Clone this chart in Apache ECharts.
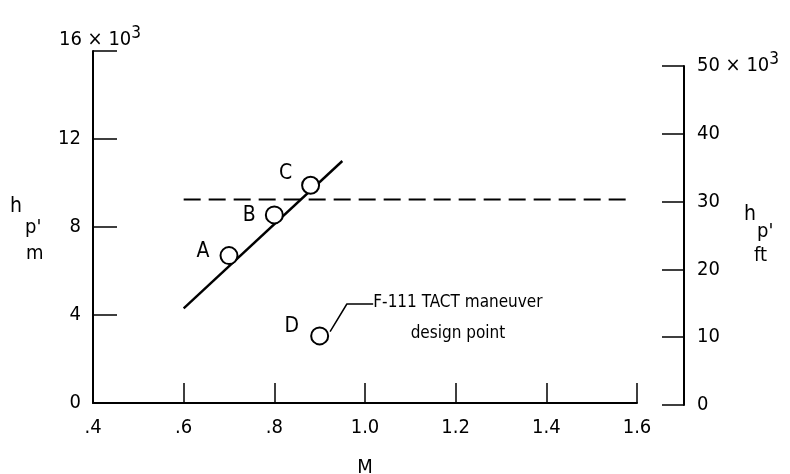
<!DOCTYPE html>
<html>
<head>
<meta charset="utf-8">
<script src="https://cdn.jsdelivr.net/npm/echarts@6/dist/echarts.min.js"></script>
<style>
html,body{margin:0;padding:0;background:#fff;}
#c{width:790px;height:474px;}
</style>
</head>
<body>
<div id="c"></div>
<script>
// ---- data ----
const machTicks = [0.4, 0.6, 0.8, 1.0, 1.2, 1.4, 1.6];
const hMetersTicks = [0, 4, 8, 12, 16];
const hFeetTicks = [0, 10, 20, 30, 40, 50];
const trendM = [0.60, 0.95];
const trendH = [4.3, 11.0];
const pointNames = ['A', 'B', 'C'];
const pointM = [0.70, 0.80, 0.88];
const pointH = [6.7, 8.55, 9.9];
const designName = ['D'];
const designM = [0.90];
const designH = [3.05];
const refLineM = [0.60, 1.59];
const refLineH = [9.25, 9.25];
const leaderM = [0.923, 0.96, 1.018];
const leaderH = [3.24, 4.5, 4.5];
const noteText = 'F-111 TACT maneuver\ndesign point';
const noteM = [1.205];
const noteH = [3.87];

const FONT = '"DejaVu Sans Condensed", "DejaVu Sans", sans-serif';
const FS = 20;
const labelOffsets = [[-26, -4], [-25, 1], [-25, -12]];

const chart = echarts.init(document.getElementById('c'));
const zip = (a, b) => a.map((v, i) => [v, b[i]]);

const option = {
  backgroundColor: '#fff',
  animation: false,
  textStyle: { fontFamily: FONT, color: '#000' },
  grid: [
    { left: 93, right: 153, top: 51, bottom: 71, outerBoundsMode: 'none', containLabel: false },
    { left: 660, width: 24, top: 66, height: 339, outerBoundsMode: 'none', containLabel: false }
  ],
  xAxis: [
    {
      gridIndex: 0, type: 'value', min: 0.4, max: 1.6, interval: 0.2,
      name: 'M', nameLocation: 'middle', nameGap: 55,
      nameTextStyle: { fontFamily: FONT, fontSize: FS, color: '#000' },
      axisLine: { onZero: false, lineStyle: { color: '#000', width: 2 } },
      axisTick: { inside: true, length: 20, lineStyle: { color: '#000', width: 1.5 } },
      axisLabel: { margin: 15, fontFamily: FONT, fontSize: FS, color: '#000',
        formatter: v => { const s = v.toFixed(1); return v < 1 ? s.replace(/^0/, '') : s; } },
      splitLine: { show: false }
    },
    { gridIndex: 1, type: 'value', min: 0, max: 1, show: false }
  ],
  yAxis: [
    {
      gridIndex: 0, type: 'value', min: 0, max: 16, interval: 4,
      name: '16 × 10{sup|3}', nameLocation: 'end', nameGap: -3,
      nameTextStyle: { fontFamily: FONT, fontSize: FS, color: '#000', align: 'center', padding: [0, 0, 0, 14],
        rich: { sup: { fontFamily: FONT, fontSize: 17, verticalAlign: 'bottom', padding: [0, 0, 12, 0] } } },
      axisLine: { show: true, onZero: false, lineStyle: { color: '#000', width: 2 } },
      axisTick: { show: true, inside: true, length: 24, lineStyle: { color: '#000', width: 1.5 } },
      axisLabel: { margin: 12, fontFamily: FONT, fontSize: FS, color: '#000',
        formatter: v => v === 16 ? '' : String(v) },
      splitLine: { show: false }
    },
    {
      gridIndex: 1, type: 'value', position: 'right', min: 0, max: 50, interval: 10,
      axisLine: { show: true, onZero: false, lineStyle: { color: '#000', width: 2 } },
      axisTick: { show: true, inside: true, length: 22, lineStyle: { color: '#000', width: 1.5 } },
      axisLabel: { margin: 13, fontFamily: FONT, fontSize: FS, color: '#000',
        formatter: v => v === 50 ? '50 × 10{sup|3}' : String(v),
        rich: { sup: { fontFamily: FONT, fontSize: 17, padding: [0, 0, 12, 0] } } },
      splitLine: { show: false }
    }
  ],
  graphic: [
    { type: 'text', left: 10, top: 196, style: { text: 'h', font: '21px ' + FONT, fill: '#000' } },
    { type: 'text', left: 25, top: 218, style: { text: "p'", font: '20px ' + FONT, fill: '#000' } },
    { type: 'text', left: 26, top: 244, style: { text: 'm', font: '20px ' + FONT, fill: '#000' } },
    { type: 'text', left: 744, top: 204, style: { text: 'h', font: '21px ' + FONT, fill: '#000' } },
    { type: 'text', left: 757, top: 222, style: { text: "p'", font: '20px ' + FONT, fill: '#000' } },
    { type: 'text', left: 754, top: 246, style: { text: 'ft', font: '20px ' + FONT, fill: '#000' } }
  ],
  series: [
    {
      type: 'line', xAxisIndex: 0, yAxisIndex: 0, data: zip(refLineM, refLineH),
      symbol: 'none', lineStyle: { color: '#000', width: 2, type: [17, 8] }, z: 2
    },
    {
      type: 'line', xAxisIndex: 0, yAxisIndex: 0, data: zip(trendM, trendH),
      symbol: 'none', lineStyle: { color: '#000', width: 2.4 }, z: 2
    },
    {
      type: 'line', xAxisIndex: 0, yAxisIndex: 0, data: zip(leaderM, leaderH),
      symbol: 'none', lineStyle: { color: '#000', width: 1.5 }, z: 2
    },
    {
      type: 'scatter', xAxisIndex: 0, yAxisIndex: 0,
      data: pointM.map((m, i) => ({
        value: [m, pointH[i]], name: pointNames[i],
        label: { offset: labelOffsets[i] }
      })),
      symbol: 'circle', symbolSize: 17,
      itemStyle: { color: '#fff', borderColor: '#000', borderWidth: 2, opacity: 1 },
      label: { show: true, position: 'inside', formatter: p => p.name,
        fontFamily: FONT, fontSize: 21, color: '#000' },
      z: 5
    },
    {
      type: 'scatter', xAxisIndex: 0, yAxisIndex: 0,
      data: designM.map((m, i) => ({ value: [m, designH[i]], name: designName[i] })),
      symbol: 'circle', symbolSize: 17,
      itemStyle: { color: '#fff', borderColor: '#000', borderWidth: 2, opacity: 1 },
      label: { show: true, position: 'inside', offset: [-28, -9], formatter: p => p.name,
        fontFamily: FONT, fontSize: 21, color: '#000' },
      z: 5
    },
    {
      type: 'scatter', xAxisIndex: 0, yAxisIndex: 0,
      data: zip(noteM, noteH), symbolSize: 0, silent: true,
      itemStyle: { opacity: 1 },
      label: { show: true, position: 'inside', formatter: noteText, align: 'center',
        fontFamily: FONT, fontSize: 17, lineHeight: 31, color: '#000' },
      z: 5
    }
  ]
};
chart.setOption(option);
</script>
</body>
</html>
